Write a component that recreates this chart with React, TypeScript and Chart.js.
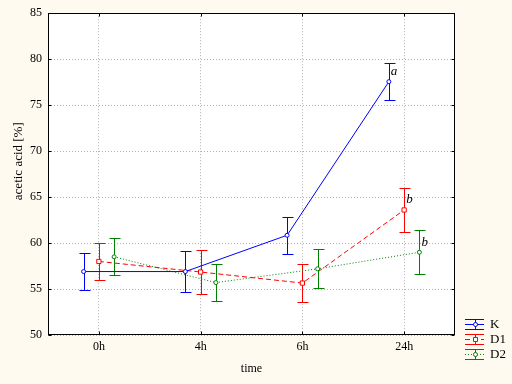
import React, { useEffect, useRef } from "react";
import { Chart, registerables } from "chart.js";

Chart.register(...registerables);

// ---- data ----
const categories = ["0h", "4h", "6h", "24h"];
const seriesNames = ["K", "D1", "D2"];
const kMeans = [56.9, 56.9, 60.85, 77.55];
const kErrors = [2.0, 2.2, 2.0, 2.0];
const d1Means = [58.0, 56.85, 55.65, 63.6];
const d1Errors = [2.0, 2.4, 2.1, 2.4];
const d2Means = [58.5, 55.7, 57.2, 59.0];
const d2Errors = [2.0, 2.05, 2.1, 2.37];
const yTicks = [50, 55, 60, 65, 70, 75, 80, 85];
const letterLabels = ["a", "b", "b"]; // significance letters at the last time point
const yTitle = "acetic acid [%]";
const xTitle = "time";

// ---- styles ----
const FONT = "'Liberation Serif', 'Times New Roman', serif";
const BG = "#fffaf0";
const colors = ["#0000ff", "#ff0000", "#008000"];
const dashes: number[][] = [[], [5, 3], [1, 2]];
const pointStyles = ["circle", "rect", "circle"];
const pointRadii = [2, 3, 2];
const xShift = [-0.15, 0, 0.15];

const allMeans = [kMeans, d1Means, d2Means];
const allErrors = [kErrors, d1Errors, d2Errors];

const bgPlugin = {
  id: "bg",
  beforeDraw(chart: any) {
    const { ctx, chartArea: a } = chart;
    ctx.save();
    ctx.fillStyle = BG;
    ctx.fillRect(0, 0, chart.width, chart.height);
    ctx.fillStyle = "#ffffff";
    ctx.fillRect(a.left, a.top, a.right - a.left, a.bottom - a.top);
    ctx.restore();
  },
};

const errorBarPlugin = {
  id: "errorBars",
  beforeDatasetsDraw(chart: any) {
    const { ctx } = chart;
    const ys = chart.scales.y;
    chart.data.datasets.forEach((ds: any, i: number) => {
      const meta = chart.getDatasetMeta(i);
      ctx.save();
      ctx.strokeStyle = ds.borderColor;
      ctx.lineWidth = 1;
      ctx.setLineDash([]);
      meta.data.forEach((pt: any, j: number) => {
        const m = ds.data[j].y;
        const e = ds.errors[j];
        const x = Math.round(pt.x) + 0.5;
        const yt = Math.round(ys.getPixelForValue(m + e)) + 0.5;
        const yb = Math.round(ys.getPixelForValue(m - e)) + 0.5;
        ctx.beginPath();
        ctx.moveTo(x, yt);
        ctx.lineTo(x, yb);
        ctx.moveTo(x - 5, yt);
        ctx.lineTo(x + 6, yt);
        ctx.moveTo(x - 5, yb);
        ctx.lineTo(x + 6, yb);
        ctx.stroke();
      });
      ctx.restore();
    });
  },
  afterDatasetsDraw(chart: any) {
    const { ctx } = chart;
    ctx.save();
    ctx.fillStyle = "#000";
    ctx.font = `italic 13px ${FONT}`;
    ctx.textAlign = "left";
    ctx.textBaseline = "middle";
    chart.data.datasets.forEach((ds: any, i: number) => {
      const meta = chart.getDatasetMeta(i);
      const pt = meta.data[meta.data.length - 1];
      if (pt && letterLabels[i]) ctx.fillText(letterLabels[i], pt.x + 2, pt.y - 10);
    });
    ctx.restore();
  },
};

const framePlugin = {
  id: "frame",
  afterDraw(chart: any) {
    const { ctx, chartArea: a } = chart;
    const xs = chart.scales.x;
    const ys = chart.scales.y;
    ctx.save();
    ctx.strokeStyle = "#000";
    ctx.lineWidth = 1;
    ctx.setLineDash([]);
    const L = Math.round(a.left) + 0.5;
    const R = Math.round(a.right) - 0.5;
    const T = Math.round(a.top) + 0.5;
    const B = Math.round(a.bottom) - 0.5;
    ctx.strokeRect(L, T, R - L, B - T);
    ctx.beginPath();
    xs.ticks.forEach((t: any) => {
      const x = Math.round(xs.getPixelForValue(t.value)) + 0.5;
      ctx.moveTo(x, T);
      ctx.lineTo(x, T + 3);
      ctx.moveTo(x, B);
      ctx.lineTo(x, B - 3);
    });
    ys.ticks.forEach((t: any) => {
      const y = Math.round(ys.getPixelForValue(t.value)) + 0.5;
      ctx.moveTo(L, y);
      ctx.lineTo(L + 3, y);
      ctx.moveTo(R, y);
      ctx.lineTo(R - 3, y);
    });
    ctx.stroke();

    // y axis title
    ctx.fillStyle = "#000";
    ctx.font = `13px ${FONT}`;
    ctx.textAlign = "center";
    ctx.textBaseline = "middle";
    ctx.save();
    ctx.translate(a.left - 29, a.top + 148);
    ctx.rotate(-Math.PI / 2);
    ctx.fillText(yTitle, 0, 0);
    ctx.restore();

    // legend
    chart.data.datasets.forEach((ds: any, i: number) => {
      const cy = Math.round(a.bottom - 11 + i * 15) + 0.5;
      const x0 = a.right + 10;
      const x1 = x0 + 19;
      const cx = Math.round((x0 + x1) / 2) + 0.5;
      ctx.strokeStyle = ds.borderColor;
      ctx.lineWidth = 1;
      ctx.setLineDash([]);
      ctx.beginPath();
      ctx.moveTo(x0, cy - 5);
      ctx.lineTo(x1, cy - 5);
      ctx.moveTo(x0, cy + 5);
      ctx.lineTo(x1, cy + 5);
      ctx.moveTo(cx, cy - 5);
      ctx.lineTo(cx, cy + 5);
      ctx.stroke();
      ctx.setLineDash(ds.borderDash || []);
      ctx.beginPath();
      ctx.moveTo(x0, cy);
      ctx.lineTo(x1, cy);
      ctx.stroke();
      ctx.setLineDash([]);
      ctx.fillStyle = "#fff";
      ctx.beginPath();
      if (ds.pointStyle === "rect") {
        ctx.rect(cx - 2, cy - 2, 4, 4);
      } else {
        ctx.arc(cx, cy, 2, 0, Math.PI * 2);
      }
      ctx.fill();
      ctx.stroke();
      ctx.fillStyle = "#000";
      ctx.font = `13px ${FONT}`;
      ctx.textAlign = "left";
      ctx.textBaseline = "middle";
      ctx.fillText(ds.label, x1 + 6, cy);
    });
    ctx.restore();
  },
};

export default function App() {
  const ref = useRef<HTMLCanvasElement | null>(null);

  useEffect(() => {
    document.body.style.margin = "0";
    const canvas = ref.current;
    if (!canvas) return;
    const datasets = seriesNames.map((name, i) => ({
      label: name,
      data: allMeans[i].map((v, j) => ({ x: j + xShift[i], y: v })),
      errors: allErrors[i],
      borderColor: colors[i],
      backgroundColor: colors[i],
      borderWidth: 1,
      borderDash: dashes[i],
      pointStyle: pointStyles[i],
      pointRadius: pointRadii[i],
      pointBorderWidth: 1,
      pointBorderColor: colors[i],
      pointBackgroundColor: "#ffffff",
      tension: 0,
      fill: false,
    }));

    const chart = new Chart(canvas, {
      type: "line",
      data: { datasets } as any,
      options: {
        animation: false,
        responsive: false,
        maintainAspectRatio: false,
        layout: { padding: { top: 13, right: 57, left: 0, bottom: 0 } },
        plugins: { legend: { display: false }, tooltip: { enabled: false } },
        scales: {
          x: {
            type: "linear",
            min: -0.5,
            max: 3.5,
            afterBuildTicks: (s: any) => {
              s.ticks = categories.map((_, i) => ({ value: i }));
            },
            afterFit: (s: any) => {
              s.height = 49;
            },
            ticks: {
              autoSkip: false,
              maxRotation: 0,
              padding: 5,
              color: "#000",
              font: { family: FONT, size: 12 },
              callback: (v: any) => categories[Math.round(Number(v))],
            },
            grid: { color: "#b0b0b0", lineWidth: 1, drawTicks: false },
            border: { display: false, dash: [1, 2] },
            title: {
              display: true,
              text: xTitle,
              color: "#000",
              font: { family: FONT, size: 12 },
              padding: { top: 0, bottom: 8 },
            },
          },
          y: {
            type: "linear",
            min: 50,
            max: 85,
            afterBuildTicks: (s: any) => {
              s.ticks = yTicks.map((v) => ({ value: v }));
            },
            afterFit: (s: any) => {
              s.width = 48;
            },
            ticks: {
              padding: 6,
              color: "#000",
              font: { family: FONT, size: 12 },
            },
            grid: { color: "#b0b0b0", lineWidth: 1, drawTicks: false },
            border: { display: false, dash: [1, 2] },
          },
        },
      } as any,
      plugins: [bgPlugin, errorBarPlugin, framePlugin],
    });
    return () => chart.destroy();
  }, []);

  return (
    <div style={{ width: 512, height: 384 }}>
      <canvas ref={ref} width={512} height={384} style={{ display: "block" }} />
    </div>
  );
}
